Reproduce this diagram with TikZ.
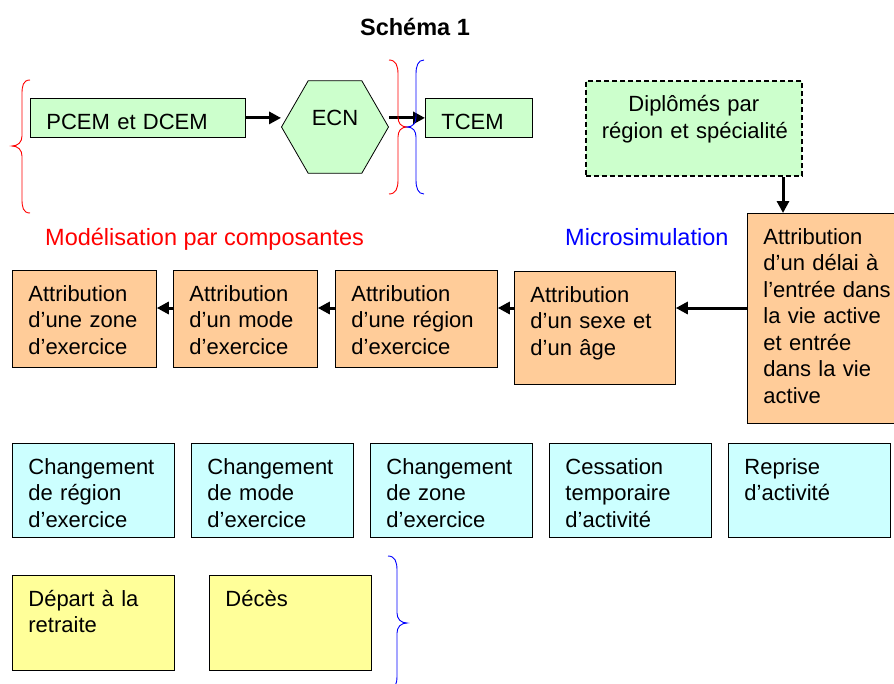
\documentclass[tikz,border=0pt]{standalone}
\usepackage{fontspec}
\setmainfont{Liberation Sans}
\usepackage{tikz}
\usetikzlibrary{arrows.meta,shapes.geometric}
\definecolor{boxgreen}{HTML}{CCFFCC}
\definecolor{boxorange}{HTML}{FFCC99}
\definecolor{boxcyan}{HTML}{CCFFFF}
\definecolor{boxyellow}{HTML}{FFFF99}
\newcommand{\boxfont}{\fontsize{22}{26.5}\selectfont\lefthyphenmin=64\hyphenpenalty=10000\hbadness=10000\hfuzz=40pt}
\newcommand{\labfont}{\fontsize{23.5}{28}\selectfont}

\begin{document}
\begin{tikzpicture}[x=1pt,y=-1pt,
  box/.style n args={3}{draw=black, line width=0.8pt, fill=#1, anchor=north west, align=left,
    inner xsep=16pt, inner ysep=0pt, text height=31pt, text width=#2, text depth=#3, font=\boxfont},
  hexa/.style={regular polygon, regular polygon sides=6, minimum size=107pt, inner sep=0pt,
    draw=black, line width=0.8pt, fill=boxgreen},
  arr/.style={-{Triangle[length=12pt,width=12pt]}, line width=3pt},
  brace/.style={line width=0.9pt}]
\useasboundingbox (0,0) rectangle (894,683);

\node[anchor=base, font=\labfont\bfseries] (title) at (415,35) {Schéma 1};

% parcours des etudes
\node[box={boxgreen}{183pt}{8pt}] (pcem) at (30,98) {PCEM et DCEM};
\node[hexa, label={[yshift=9pt, font=\boxfont]center:ECN}] (ecn) at (335,127) {};
\node[box={boxgreen}{75pt}{8pt}] (tcem) at (425,98) {TCEM};
\node[box={boxgreen}{184pt}{64pt}, align=center, dash pattern=on 5pt off 3pt, line width=1.8pt] (dipl) at (585,80) {Diplômés~par\\région~et~spécialité};

\draw[arr] (pcem) -- (pcem -| ecn.west);
\draw[arr] (tcem -| ecn.east) -- (tcem.west);

\node[anchor=base west, text=red, font=\labfont, inner sep=0pt] (modl) at (45,245) {Modélisation par composantes};
\node[anchor=base west, text=blue, font=\labfont, inner sep=0pt] (micro) at (565,245) {Microsimulation};

% attributions
\node[box={boxorange}{115pt}{179pt}] (delai) at (747,213) {Attribution\\d’un~délai~à\\l’entrée~dans\\la~vie~active\\et~entrée\\dans~la~vie\\active};
\node[box={boxorange}{129pt}{82pt}] (sexe) at (514,271) {Attribution\\d’un~sexe~et\\d’un~âge};
\node[box={boxorange}{130pt}{66pt}] (reg) at (335,270) {Attribution\\d’une~région\\d’exercice};
\node[box={boxorange}{112pt}{66pt}] (mode) at (173,270) {Attribution\\d’un~mode\\d’exercice};
\node[box={boxorange}{112pt}{66pt}] (zone) at (12,270) {Attribution\\d’une~zone\\d’exercice};

\coordinate (drop) at (783,0);
\coordinate (chain) at (0,308);
\draw[arr] (dipl.south -| drop) -- (delai.north -| drop);
\draw[arr] (delai.west |- chain) -- (sexe.east |- chain);
\draw[arr] (sexe.west |- chain) -- (reg.east |- chain);
\draw[arr] (reg.west |- chain) -- (mode.east |- chain);
\draw[arr] (mode.west |- chain) -- (zone.east |- chain);

% evenements
\node[box={boxcyan}{130pt}{63pt}] (c1) at (12,443) {Changement\\de~région\\d’exercice};
\node[box={boxcyan}{130pt}{63pt}] (c2) at (191,443) {Changement\\de~mode\\d’exercice};
\node[box={boxcyan}{130pt}{63pt}] (c3) at (370,443) {Changement\\de~zone\\d’exercice};
\node[box={boxcyan}{130pt}{63pt}] (c4) at (549,443) {Cessation\\temporaire\\d’activité};
\node[box={boxcyan}{130pt}{63pt}] (c5) at (728,443) {Reprise\\d’activité};

\node[box={boxyellow}{130pt}{64pt}] (y1) at (12,575) {Départ~à~la\\retraite};
\node[box={boxyellow}{130pt}{64pt}] (y2) at (209,575) {Décès};

% accolades
\draw[brace, red] (30,80) .. controls (23,80) and (22,86) .. (22,94) -- (22,136)
  .. controls (22,142) and (18,146) .. (12,146) .. controls (18,146) and (22,150) .. (22,156)
  -- (22,199) .. controls (22,207) and (23,213) .. (30,213);
\draw[brace, red] (389,60) .. controls (396,60) and (398,66) .. (398,74) -- (398,117)
  .. controls (398,123) and (401,127) .. (407,127) .. controls (401,127) and (398,131) .. (398,137)
  -- (398,180) .. controls (398,188) and (396,194) .. (389,194);
\draw[brace, blue] (424,60) .. controls (418,60) and (416,66) .. (416,74) -- (416,117)
  .. controls (416,123) and (413,127) .. (407,127) .. controls (413,127) and (416,131) .. (416,137)
  -- (416,180) .. controls (416,188) and (418,194) .. (424,194);
\draw[brace, blue] (388,556) .. controls (395,556) and (397,562) .. (397,570) -- (397,613)
  .. controls (397,619) and (401,623) .. (407,623) .. controls (401,623) and (397,627) .. (397,633)
  -- (397,676) .. controls (397,684) and (395,690) .. (388,690);
\end{tikzpicture}
\end{document}
